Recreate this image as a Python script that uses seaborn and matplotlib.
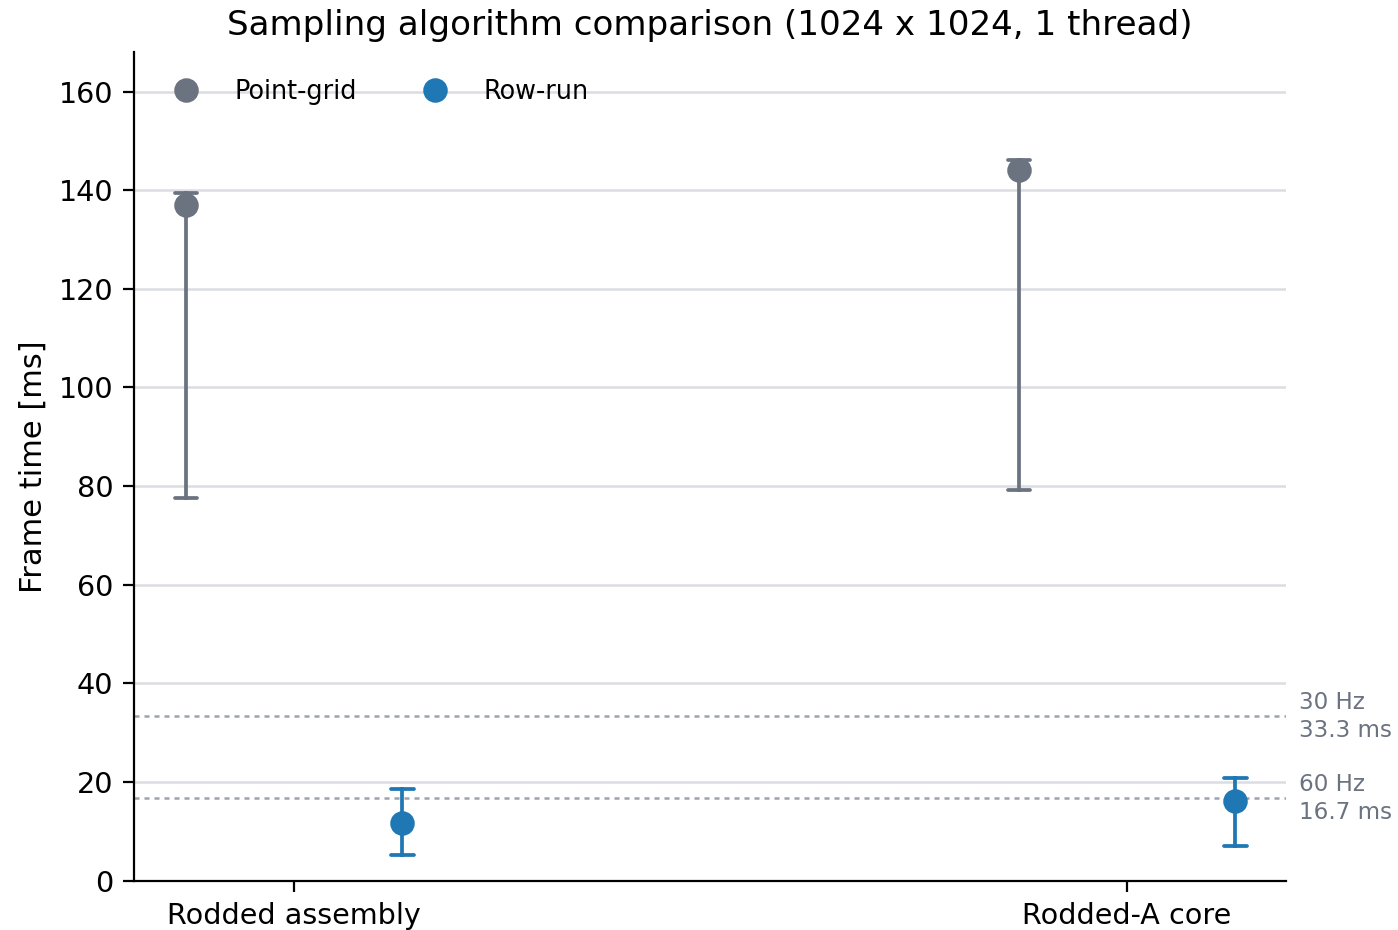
import numpy as np
import pandas as pd
import matplotlib
matplotlib.use("Agg")
import matplotlib.pyplot as plt
import seaborn as sns

# ---- data ----
categories = ["Rodded assembly", "Rodded-A core"]
algorithms = ["Point-grid", "Row-run"]
pg_mid = [137.0, 144.0]
pg_lo = [77.5, 79.2]
pg_hi = [139.5, 146.2]
rr_mid = [11.8, 16.2]
rr_lo = [5.3, 7.1]
rr_hi = [18.5, 20.9]
ref_ms = [33.3, 16.7]
ref_labels = ["30 Hz\n33.3 ms", "60 Hz\n16.7 ms"]
colors = {"Point-grid": "#6b7280", "Row-run": "#1f77b4"}

rows = []
for i, cat in enumerate(categories):
    for v in (pg_lo[i], pg_mid[i], pg_hi[i]):
        rows.append({"Scenario": cat, "Algorithm": "Point-grid", "Frame time": v})
    for v in (rr_lo[i], rr_mid[i], rr_hi[i]):
        rows.append({"Scenario": cat, "Algorithm": "Row-run", "Frame time": v})
df = pd.DataFrame(rows)

sns.set_theme(style="ticks")
plt.rcParams["font.family"] = ["DejaVu Sans"]
plt.rcParams["text.color"] = "black"
plt.rcParams["axes.labelcolor"] = "black"

fig, ax = plt.subplots(figsize=(6.99, 4.65), dpi=200)
fig.subplots_adjust(left=0.096, right=0.92, top=0.944, bottom=0.053)

ax.grid(axis="y", color="#dcdde3", linewidth=0.9, zorder=0)
ax.set_axisbelow(True)

sns.pointplot(
    data=df, x="Scenario", y="Frame time", hue="Algorithm",
    hue_order=algorithms, order=categories, palette=colors,
    estimator="median", errorbar=lambda v: (np.min(v), np.max(v)),
    dodge=0.26, linestyle="none", markers="o", markersize=6.8,
    capsize=0.027, err_kws={"linewidth": 1.35}, ax=ax, zorder=3,
)

for y, lab in zip(ref_ms, ref_labels):
    ax.axhline(y, color="#9ca3af", linestyle=(0, (2, 2)), linewidth=0.9, zorder=1)
    ax.text(1.011, y, lab, transform=ax.get_yaxis_transform(), ha="left",
            va="center", fontsize=8.3, color="#6b7280", linespacing=1.25)

ax.set_xlim(-0.192, 1.191)
ax.set_ylim(0, 168)
ax.set_yticks([0, 20, 40, 60, 80, 100, 120, 140, 160])
ax.tick_params(axis="both", labelsize=10.3, length=4, width=0.8, colors="black")
ax.set_xlabel("")
ax.set_ylabel("Frame time [ms]", fontsize=11, color="black")
ax.set_title("Sampling algorithm comparison (1024 x 1024, 1 thread)",
             fontsize=12.3, color="black")
sns.despine(ax=ax)
for s in ["left", "bottom"]:
    ax.spines[s].set_color("black")
    ax.spines[s].set_linewidth(0.8)

leg = ax.legend(loc="upper left", bbox_to_anchor=(0.008, 0.995), ncol=2,
                frameon=False, fontsize=9.2, handletextpad=1.15,
                columnspacing=2.3, handlelength=1.5)
for t in leg.get_texts():
    t.set_color("black")

fig.savefig("out.png", dpi=200)
